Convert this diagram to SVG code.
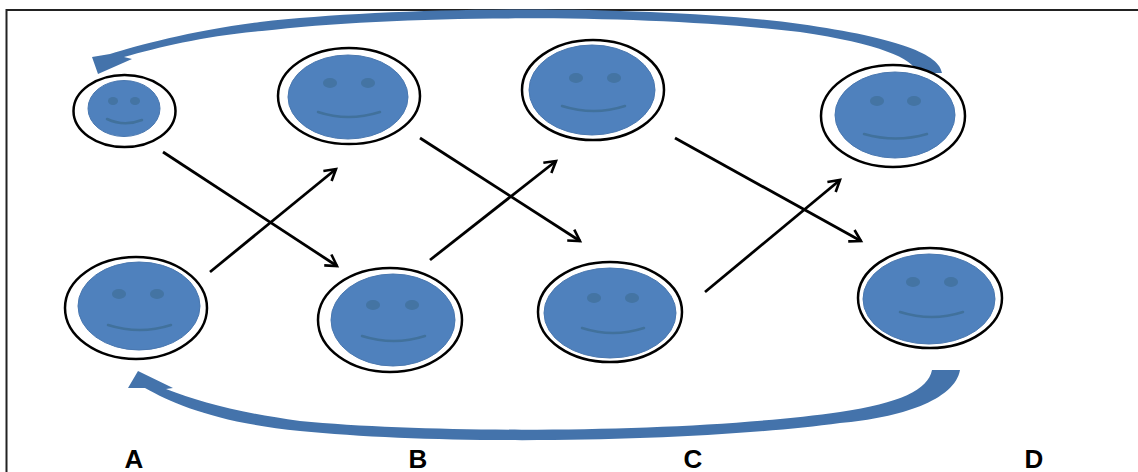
<svg xmlns="http://www.w3.org/2000/svg" width="1138" height="472" viewBox="0 0 1138 472">
<style>
.ring{fill:#fff;stroke:#000;stroke-width:2.5}
.face{fill:#4F81BD;stroke:#4A78B0;stroke-width:1}
.eye{fill:#41719C;opacity:0.8}
.smile{fill:none;stroke:#41719C;stroke-width:2.5;stroke-linecap:round}
.conn{fill:none;stroke:#000;stroke-width:2.8;marker-end:url(#ah)}
.cyc{fill:#4473AB}
.lbl{font-family:"Liberation Sans",Arial,sans-serif;font-weight:bold;font-size:26px;fill:#000;text-anchor:middle}
</style>
<defs>
<marker id="ah" viewBox="0 0 16 16" refX="13" refY="8" markerWidth="16" markerHeight="16" markerUnits="userSpaceOnUse" orient="auto">
<polyline points="2,1.5 13,8 2,14.5" fill="none" stroke="#000" stroke-width="2.6" stroke-linejoin="miter"/>
</marker>
</defs>
<rect width="1138" height="472" fill="#fff"/>
<path d="M6.5,472 V10 H1138" fill="none" stroke="#222" stroke-width="2"/>

<g id="cycle">
<path class="cyc" d="M942,73 C940,55 900,38 800,24 C650,4 400,6 260,22 C190,31 140,45 110,54 L92,57 L98,74 L132,59 L124,57 C160,47 205,36 262,31 C400,14 650,14 800,32 C880,44 912,58 918,73 Z"/>
<path class="cyc" d="M932,370 L960,370 C955,400 900,418 840,423 C700,442 450,446 300,431 C220,423 175,405 145,388 L128,388 L138,371 L173,388 L166,389 C200,402 240,413 300,421 C450,435 700,432 840,412 C900,403 928,390 932,370 Z"/>
</g>

<g id="connectors">
<line class="conn" x1="163" y1="152" x2="337" y2="266"/>
<line class="conn" x1="210" y1="272" x2="336" y2="169"/>
<line class="conn" x1="420" y1="138" x2="580" y2="241"/>
<line class="conn" x1="430" y1="260" x2="556" y2="161"/>
<line class="conn" x1="675" y1="138" x2="861" y2="241"/>
<line class="conn" x1="705" y1="292" x2="840" y2="180"/>
</g>

<g id="a-top">
<ellipse class="ring" cx="124.5" cy="111" rx="51" ry="36"/>
<ellipse class="face" cx="124" cy="108.5" rx="36" ry="28"/>
<ellipse class="eye" cx="113" cy="101" rx="5" ry="4"/>
<ellipse class="eye" cx="135" cy="101" rx="5" ry="4"/>
<path class="smile" d="M107,119 Q124,127 142,120"/>
</g>

<g id="b-top">
<ellipse class="ring" cx="349" cy="96" rx="71" ry="48"/>
<ellipse class="face" cx="348" cy="97" rx="60" ry="42"/>
<ellipse class="eye" cx="330" cy="83" rx="7" ry="5"/>
<ellipse class="eye" cx="368" cy="83" rx="7" ry="5"/>
<path class="smile" d="M318,112 Q348,122 380,112"/>
</g>

<g id="c-top">
<ellipse class="ring" cx="593" cy="90" rx="71" ry="50"/>
<ellipse class="face" cx="592" cy="90" rx="63" ry="45"/>
<ellipse class="eye" cx="576" cy="78" rx="7" ry="5"/>
<ellipse class="eye" cx="614" cy="78" rx="7" ry="5"/>
<path class="smile" d="M562,106 Q594,116 625,106"/>
</g>

<g id="d-top">
<ellipse class="ring" cx="893" cy="116" rx="72" ry="51"/>
<ellipse class="face" cx="895" cy="115" rx="60" ry="43"/>
<ellipse class="eye" cx="877" cy="101" rx="7" ry="5"/>
<ellipse class="eye" cx="914" cy="101" rx="7" ry="5"/>
<path class="smile" d="M864,134 Q896,143 927,134"/>
</g>

<g id="a-bottom">
<ellipse class="ring" cx="136" cy="308" rx="71" ry="51"/>
<ellipse class="face" cx="139" cy="306" rx="61" ry="44"/>
<ellipse class="eye" cx="119" cy="294" rx="7" ry="5"/>
<ellipse class="eye" cx="157" cy="294" rx="7" ry="5"/>
<path class="smile" d="M108,325 Q140,335 171,325"/>
</g>

<g id="b-bottom">
<ellipse class="ring" cx="390" cy="320" rx="72" ry="52"/>
<ellipse class="face" cx="393" cy="320" rx="62" ry="46"/>
<ellipse class="eye" cx="373" cy="305" rx="7" ry="5"/>
<ellipse class="eye" cx="412" cy="305" rx="7" ry="5"/>
<path class="smile" d="M362,336 Q394,346 425,336"/>
</g>

<g id="c-bottom">
<ellipse class="ring" cx="610" cy="312" rx="72" ry="50"/>
<ellipse class="face" cx="610" cy="313" rx="66" ry="45"/>
<ellipse class="eye" cx="594" cy="298" rx="7" ry="5"/>
<ellipse class="eye" cx="632" cy="298" rx="7" ry="5"/>
<path class="smile" d="M582,328 Q613,338 644,328"/>
</g>

<g id="d-bottom">
<ellipse class="ring" cx="930" cy="298" rx="72" ry="50"/>
<ellipse class="face" cx="929" cy="299" rx="66" ry="45"/>
<ellipse class="eye" cx="913" cy="282" rx="7" ry="5"/>
<ellipse class="eye" cx="951" cy="282" rx="7" ry="5"/>
<path class="smile" d="M900,312 Q932,322 963,312"/>
</g>

<g id="labels">
<text class="lbl" x="134" y="468">A</text>
<text class="lbl" x="418" y="468">B</text>
<text class="lbl" x="693" y="468">C</text>
<text class="lbl" x="1034" y="468">D</text>
</g>
</svg>
